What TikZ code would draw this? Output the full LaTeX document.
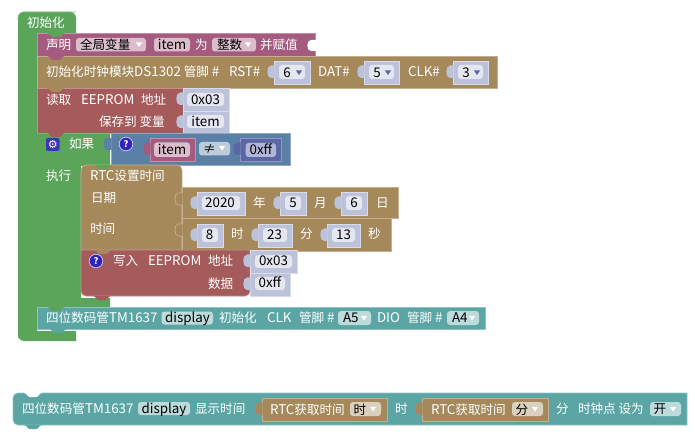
\documentclass[tikz,border=0pt]{standalone}
\usepackage{fontspec}
\setmainfont{Noto Sans CJK SC}
\newfontfamily\latfam[Scale=1.06]{Noto Sans CJK SC}
\newcommand{\la}[1]{{\latfam #1}}
\definecolor{cgreen}{HTML}{5BA55B}
\definecolor{cgreenE}{HTML}{7CB77C}
\definecolor{cpink}{HTML}{A55B80}
\definecolor{cpinkE}{HTML}{C58FAA}
\definecolor{cpinkF}{HTML}{DBBDCC}
\definecolor{cbrown}{HTML}{A5895B}
\definecolor{cbrownE}{HTML}{C4B08F}
\definecolor{cbrownF}{HTML}{DBD0BD}
\definecolor{cred}{HTML}{A55B5B}
\definecolor{credE}{HTML}{C48F8F}
\definecolor{cblue}{HTML}{5B80A5}
\definecolor{cblueE}{HTML}{8FA8C4}
\definecolor{cblueF}{HTML}{BDCCDB}
\definecolor{cviolet}{HTML}{5B67A5}
\definecolor{cvioletE}{HTML}{8F97C4}
\definecolor{cteal}{HTML}{5BA5A5}
\definecolor{ctealE}{HTML}{8FC4C4}
\definecolor{ctealF}{HTML}{BDDBDB}
\definecolor{cshadow}{HTML}{BDC2DB}
\definecolor{cshadowE}{HTML}{D8DBEA}
\definecolor{cshadowF}{HTML}{E4E6F0}
\definecolor{cicon}{HTML}{3322BB}
\newcounter{lblc}
\tikzset{
  lbl/.style={anchor=base west,inner sep=0pt,outer sep=0pt,text=white,yshift=-.6pt,font=\fontsize{12.6}{15}\selectfont},
  lblk/.style={anchor=base,inner sep=0pt,outer sep=0pt,text=black,yshift=-.6pt,font=\fontsize{12.6}{15}\selectfont},
  field/.style={rounded corners=3pt},
  blockedge/.style={line width=.7pt}
}
% white text, left edge x, baseline y
\newcommand{\wt}[3]{\stepcounter{lblc}\node[lbl] (t\thelblc) at (#1,#2) {#3};}
% black text centred on x, baseline y
\newcommand{\kt}[3]{\stepcounter{lblc}\node[lblk] (t\thelblc) at (#1,#2) {#3};}
% plain statement block
\newcommand{\blk}[5]{\filldraw[fill=#5,draw=#5E,blockedge] (#1,#2) rectangle (#3,#4);}
% tab hanging under a statement block: x, y, colour
\newcommand{\nxt}[3]{\fill[#3] (#1,#2) .. controls (#1+3,#2) and (#1+3,#2+4) .. (#1+6,#2+4) -- (#1+12,#2+4) .. controls (#1+15,#2+4) and (#1+15,#2) .. (#1+18,#2) -- cycle;}
% value block with output tab on the left
\newcommand{\val}[5]{\filldraw[fill=#5,draw=#5E,blockedge] (#1,#2) rectangle (#3,#4);
  \fill[#5] (#1+.5,#2+4.5) -- (#1-3,#2+4.5) .. controls (#1-8,#2+4.5) and (#1-8,#2+17) .. (#1-3,#2+17) -- (#1+.5,#2+17) -- cycle;}
\newcommand{\fld}[5]{\fill[#5,field] (#1,#2) rectangle (#3,#4);}
\newcommand{\tri}[3]{\fill[#3] (#1-3.2,#2-2.2) -- (#1+3.2,#2-2.2) -- (#1,#2+2.6) -- cycle;}
% numeric shadow block: x1 x2 y1 y2 textx baseline text
\newcommand{\num}[7]{\val{#1}{#3}{#2}{#4}{cshadow}\fld{#1+5}{#3+4}{#2-5}{#4-5}{cshadowF}{}\kt{#5}{#6}{\la{#7}}}
\newcommand{\numd}[7]{\val{#1}{#3}{#2}{#4}{cshadow}\fld{#1+5}{#3+4}{#2-5}{#4-5}{cshadowF}{}\kt{#5}{#6}{\la{#7}}\tri{#2-11}{#6-4}{cviolet}}
\newcommand{\qicon}[2]{\filldraw[fill=cicon,draw=white!75!cicon,line width=.7pt] (#1,#2) circle (6.8);\stepcounter{lblc}\node[inner sep=0pt,text=white,font=\bfseries\fontsize{9}{10}\selectfont] (t\thelblc) at (#1,#2) {?};}
\begin{document}
\begin{tikzpicture}[x=1pt,y=-1pt]
\useasboundingbox (0,0) rectangle (695,435);
\fill[white] (0,0) rectangle (695,435);
% outer green block
\fill[cgreen] (18,341) [rounded corners=6pt] -- (18,12) -- (76,12) [sharp corners] -- (76,33) -- (37,33) -- (37,331) -- (76,331) -- (76,341) [rounded corners=6pt] -- (18,341) [sharp corners] -- (18,330) -- cycle;
\draw[cgreenE,blockedge] (18,20) [rounded corners=6pt] -- (18,12) -- (76,12);
\fill[cgreen] (18,20) rectangle (37,335);
\wt{27}{26.5}{初始化}
% declare
\filldraw[fill=cpink,draw=cpinkE,blockedge] (37,33) rectangle (315,56);
\nxt{47}{33}{cgreen}
\fill[white] (316,40) -- (311,40) .. controls (306,40) and (306,51) .. (311,51) -- (316,51) -- cycle;
\wt{46}{48.5}{声明}
\fld{76}{38}{146}{51.5}{cpinkF}{}\wt{80}{48.5}{\color{black}全局变量}\tri{139}{44.5}{white}
\fld{154}{38}{190}{51.5}{cpinkF}{}\kt{172}{48.5}{\la{item}}
\wt{195}{48.5}{为}
\fld{212}{38}{256}{51.5}{cpinkF}{}\wt{217}{48.5}{\color{black}整数}\tri{248}{44.5}{white}
\wt{260}{48.5}{并赋值}
% DS1302
\blk{37}{56}{497}{88}{cbrown}
\nxt{47}{56}{cpink}
\wt{46}{75.5}{初始化时钟模块\la{DS1302} 管脚 \la{\#}}
\wt{229}{75.5}{\la{RST\#}}
\numd{274}{310}{61}{84}{287}{76.5}{6}
\wt{318}{75.5}{\la{DAT\#}}
\numd{364}{399}{61}{84}{377}{76.5}{5}
\wt{408}{75.5}{\la{CLK\#}}
\numd{453}{488}{61}{84}{466}{76.5}{3}
% EEPROM read
\blk{37}{88}{183}{133}{cred}
\val{183}{88}{229}{111}{cshadow}\val{183}{111}{229}{133}{cshadow}
\nxt{47}{88}{cbrown}
\wt{46}{103.5}{读取}\wt{81}{103.5}{\la{EEPROM}}\wt{141}{103.5}{地址}
\wt{99}{125.5}{保存到 变量}
\fld{187}{93}{224}{106}{cshadowF}{}\kt{205.5}{103.5}{\la{0x03}}
\fld{187}{115}{224}{128}{cshadowF}{}\kt{205.5}{125.5}{\la{item}}
% if block
\fill[cgreen] (37,133) -- (110,133) -- (110,166) -- (81,166) -- (81,298) -- (110,298) -- (110,307) -- (37,307) -- cycle;
\draw[cgreenE,blockedge] (37,133) -- (110,133);
\nxt{47}{133}{cred}
\fill[cicon!80!cblue,rounded corners=2pt] (46,138) rectangle (59.5,151);
\stepcounter{lblc}\node[inner sep=0pt,text=white,font=\fontsize{11}{12}\selectfont,text=white] (t\thelblc) at (52.7,144.5) {\fontspec{DejaVu Sans}⚙};
\wt{69}{148}{如果}
\wt{46}{179.5}{执行}
% logic block
\filldraw[fill=cblue,draw=cblueE,blockedge] (111,133) rectangle (290,165);
\fill[cblue] (111.5,138) -- (107,138) .. controls (102,138) and (102,150) .. (107,150) -- (111.5,150) -- cycle;
\qicon{126}{144}
\val{150}{138}{195}{161}{cpink}
\fld{154}{142.5}{190}{157}{cpinkF}{}\kt{172}{153.5}{\la{item}}
\fld{199}{142}{230}{155.5}{cblueF}{}\kt{209.5}{153}{≠}\tri{222}{148}{white}
\val{240}{138}{281}{161}{cviolet}
\fld{245.5}{143}{276}{157}{cvioletE!70!white}{}\kt{261}{153.5}{\la{0xff}}
% RTC set
\filldraw[fill=cbrown,draw=cbrownE,blockedge] (81,250) [rounded corners=5pt] -- (81,165) -- (182,165) [sharp corners] -- (182,250) -- cycle;
\nxt{94}{165}{cgreen}
\wt{90}{179.5}{\la{RTC}设置时间}
\wt{91}{201.5}{日期}
\wt{90}{233}{时间}
% date row
\blk{182}{187}{398}{218}{cbrown}
\fill[cbrown] (182.5,193) -- (178,193) .. controls (174,193) and (174,205) .. (178,205) -- (182.5,205) -- cycle;
\draw[cbrownE,blockedge] (182,187) -- (182,193) -- (178,193) .. controls (174,193) and (174,205) .. (178,205) -- (182,205) -- (182,218);
\num{197}{245}{192}{215}{220}{206.5}{2020}
\wt{253}{206.5}{年}
\num{280}{306}{192}{215}{293}{206.5}{5}
\wt{314}{206.5}{月}
\num{341}{367}{192}{215}{354}{206.5}{6}
\wt{376}{206.5}{日}
% time row
\blk{182}{218}{391}{251}{cbrown}
\fill[cbrown] (182.5,224) -- (178,224) .. controls (174,224) and (174,236) .. (178,236) -- (182.5,236) -- cycle;
\draw[cbrownE,blockedge] (182,218) -- (182,224) -- (178,224) .. controls (174,224) and (174,236) .. (178,236) -- (182,236) -- (182,251);
\num{197}{223}{224}{247}{209.5}{238.5}{8}
\wt{231}{237.5}{时}
\num{258}{292}{224}{247}{274.5}{238.5}{23}
\wt{300}{237.5}{分}
\num{327}{360}{224}{247}{343.5}{238.5}{13}
\wt{368}{237.5}{秒}
% write EEPROM
\filldraw[fill=cred,draw=credE,blockedge] (250,250) -- (81,250) [rounded corners=5pt] -- (81,296) -- (250,296) [sharp corners] -- cycle;
\fill[cred] (93,296) .. controls (96,296) and (96,300) .. (99,300) -- (105,300) .. controls (108,300) and (108,296) .. (111,296) -- cycle;
\nxt{94}{250}{cbrown}
\qicon{96}{261}
\wt{113}{265}{写入}\wt{148}{265}{\la{EEPROM}}\wt{208}{265}{地址}
\wt{208}{287.5}{数据}
\val{250}{250}{297}{273}{cshadow}
\val{250}{273}{290}{296}{cshadow}
\fld{255}{255}{292}{268}{cshadowF}{}\kt{273.5}{265}{\la{0x03}}
\fld{255}{277}{285}{290}{cshadowF}{}\kt{270}{287}{\la{0xff}}
% TM1637 init
\filldraw[fill=cteal,draw=ctealE,blockedge] (37,307) rectangle (485,329);
\nxt{47}{307}{cgreen}
\fill[cteal] (49,329) .. controls (52,329) and (52,333) .. (55,333) -- (61,333) .. controls (64,333) and (64,329) .. (67,329) -- cycle;
\wt{46}{321.5}{四位数码管\la{TM1637}}
\fld{161.5}{311.5}{213}{324.5}{ctealF}{}\kt{187.5}{321.5}{\la{display}}
\wt{219}{321.5}{初始化}
\wt{267}{321.5}{\la{CLK}}
\wt{299}{321.5}{管脚 \la{\#}}
\fld{338}{311}{371}{325}{ctealF}{}\wt{343}{321.5}{\color{black}\la{A5}}\tri{364}{318}{white}
\wt{377}{321.5}{\la{DIO}}
\wt{407}{321.5}{管脚 \la{\#}}
\fld{447}{311}{479}{325}{ctealF}{}\wt{452}{321.5}{\color{black}\la{A4}}\tri{472}{318}{white}
% bottom block
\filldraw[fill=cteal,draw=ctealE,blockedge] (687,393) -- (687,425) -- (19,425) [rounded corners=5pt] -- (13,425) -- (13,393) [sharp corners] -- (687,393) -- cycle;
\fill[white] (24,392) rectangle (42,393);
\fill[white] (24,393) .. controls (27,393) and (27,397) .. (30,397) -- (36,397) .. controls (39,397) and (39,393) .. (42,393) -- cycle;
\fill[cteal] (24,425) .. controls (27,425) and (27,429) .. (30,429) -- (36,429) .. controls (39,429) and (39,425) .. (42,425) -- cycle;
\wt{22}{413}{四位数码管\la{TM1637}}
\fld{138}{402}{190}{415}{ctealF}{}\kt{164}{413}{\la{display}}
\wt{195}{413}{显示时间}
\val{262}{398}{387}{421}{cbrown}
\wt{270}{413.5}{\la{RTC}获取时间}
\fld{350}{402}{381}{416}{cbrownF}{}\kt{360}{413.5}{时}\tri{373}{409}{white}
\wt{395}{413}{时}
\val{422}{398}{548}{421}{cbrown}
\wt{431}{413.5}{\la{RTC}获取时间}
\fld{512}{402}{543}{416}{cbrownF}{}\kt{522}{413.5}{分}\tri{535}{409}{white}
\wt{556}{413}{分}
\wt{578}{413}{时钟点 设为}
\fld{650}{402}{681}{416}{ctealF}{}\kt{660}{413}{开}\tri{673}{409}{white}
\end{tikzpicture}
\end{document}
